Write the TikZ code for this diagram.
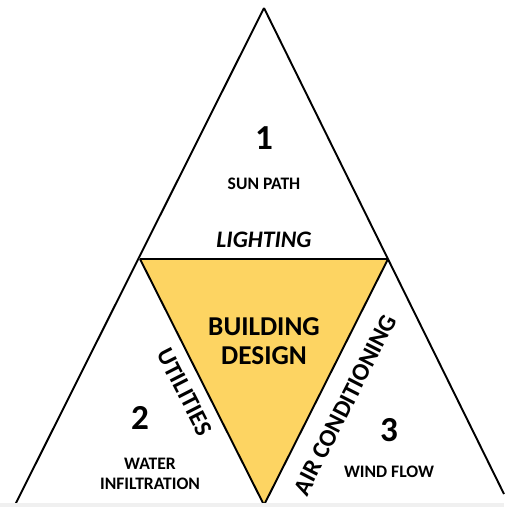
\documentclass[tikz,border=0pt]{standalone}
\usepackage{fontspec}
\setmainfont{Carlito}
\definecolor{design}{RGB}{253,212,98}
\tikzset{
	num/.style={font=\bfseries\fontsize{20}{22}\selectfont},
	topic/.style={font=\bfseries\fontsize{10}{11}\selectfont, align=center},
	link/.style={font=\bfseries\itshape\fontsize{13.5}{15}\selectfont},
	side/.style={font=\bfseries\fontsize{14}{15}\selectfont, inner sep=0pt},
}
\begin{document}
\begin{tikzpicture}[x=0.02cm, y=-0.02cm]
		\useasboundingbox (0, 0) rectangle (504, 507);
		\coordinate (top) at (264, 8);
		\coordinate (left) at (15, 505);
		\coordinate (right) at (504, 494);
		\coordinate (a) at (140, 259);
		\coordinate (b) at (388, 259);
		\coordinate (c) at (264, 505);
		\fill [design] (a) -- (b) -- (c) -- cycle;
		\draw [black, line width=1.1pt] (top) -- (left);
		\draw [black, line width=1.1pt] (top) -- (right);
		\draw [black, line width=1.1pt] (a) -- (b);
		\draw [black, line width=1.1pt] (a) -- (c);
		\draw [black, line width=1.1pt] (b) -- (c);
		\fill [black!6] (0, 503) rectangle (504, 507);
		\node [num] at (264, 138) (n1) {1};
		\node [topic] at (264, 184) (sun) {SUN PATH};
		\node [link] at (264, 240) (light) {LIGHTING};
		\node [side, align=center, font=\bfseries\fontsize{15.5}{16.5}\selectfont] at (264, 341) (design) {BUILDING\\DESIGN};
		\node [side, rotate=-63] at (185, 392) (util) {UTILITIES};
		\node [side, rotate=63] at (345, 405) (air) {AIR CONDITIONING};
		\node [num] at (140, 418) (n2) {2};
		\node [topic] at (150, 474) (water) {WATER\\INFILTRATION};
		\node [num] at (389, 430) (n3) {3};
		\node [topic] at (389, 472) (wind) {WIND FLOW};
	\end{tikzpicture}
\end{document}
